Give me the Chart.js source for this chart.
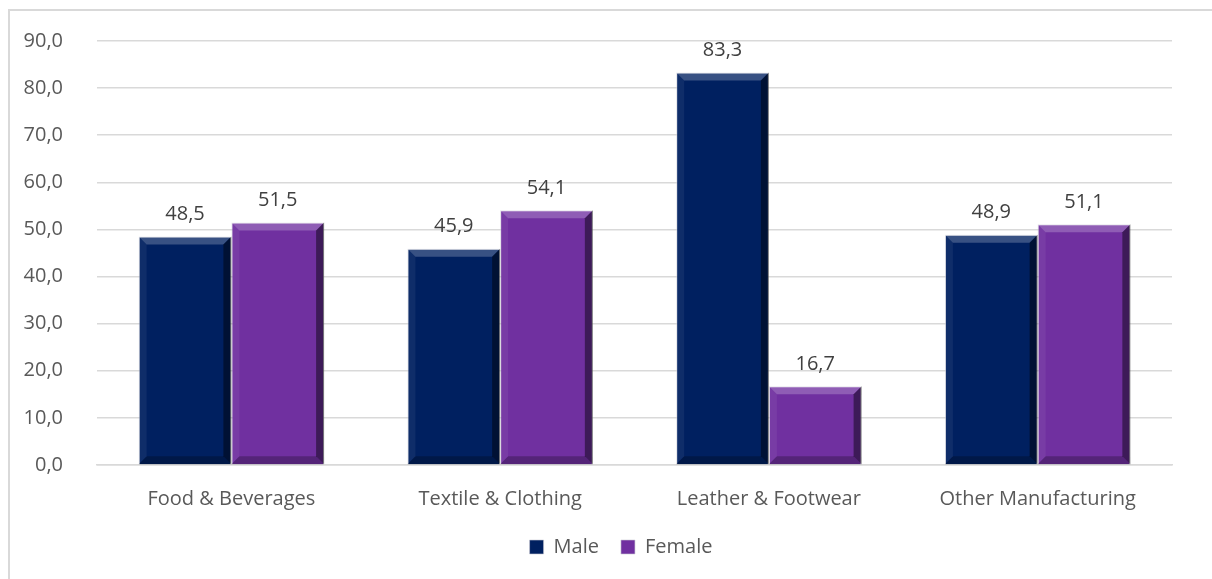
<!DOCTYPE html>
<html>
<head>
<meta charset="utf-8">
<script src="https://cdn.jsdelivr.net/npm/chart.js@4.4.1/dist/chart.umd.min.js"></script>
<style>
  html, body { margin: 0; padding: 0; background: #fff; }
  #wrap { position: relative; width: 1212px; height: 579px; overflow: hidden; }
  #frame { position: absolute; left: 8px; top: 9px; width: 1300px; height: 700px;
           border-top: 2px solid #d9d9d9; border-left: 2px solid #d9d9d9; }
  #myChart { position: absolute; left: 0; top: 0; }
</style>
</head>
<body>
<div id="wrap">
  <div id="frame"></div>
  <canvas id="myChart" width="1212" height="579"></canvas>
</div>
<script>
// Data
const categories = ['Food & Beverages', 'Textile & Clothing', 'Leather & Footwear', 'Other Manufacturing'];
const maleValues = [48.5, 45.9, 83.3, 48.9];
const femaleValues = [51.5, 54.1, 16.7, 51.1];
const yTicks = [0, 10, 20, 30, 40, 50, 60, 70, 80, 90];

const fontFamily = '"Open Sans", "Noto Sans", sans-serif';
const fontSize = 20;
const fmt = v => v.toFixed(1).replace('.', ',');

// Skuggning på staplarna (bevel-liknande)
const bevelPlugin = {
  id: 'bevel',
  afterDatasetsDraw(chart) {
    const ctx = chart.ctx;
    chart.data.datasets.forEach((ds, i) => {
      chart.getDatasetMeta(i).data.forEach(bar => {
        const l = bar.x - bar.width / 2, r = bar.x + bar.width / 2;
        const t = bar.y, b = bar.base;
        const e = Math.min(8, (b - t) / 3);
        ctx.save();
        // top (light)
        ctx.fillStyle = 'rgba(255,255,255,0.22)';
        ctx.beginPath();
        ctx.moveTo(l, t); ctx.lineTo(r, t); ctx.lineTo(r - e, t + e); ctx.lineTo(l + e, t + e);
        ctx.fill();
        // right (dark)
        ctx.fillStyle = 'rgba(0,0,0,0.45)';
        ctx.beginPath();
        ctx.moveTo(r, t); ctx.lineTo(r, b); ctx.lineTo(r - e, b - e); ctx.lineTo(r - e, t + e);
        ctx.fill();
        // bottom (dark)
        ctx.fillStyle = 'rgba(0,0,0,0.25)';
        ctx.beginPath();
        ctx.moveTo(l, b); ctx.lineTo(r, b); ctx.lineTo(r - e, b - e); ctx.lineTo(l + e, b - e);
        ctx.fill();
        // left (slightly light)
        ctx.fillStyle = 'rgba(255,255,255,0.06)';
        ctx.beginPath();
        ctx.moveTo(l, t); ctx.lineTo(l, b); ctx.lineTo(l + e, b - e); ctx.lineTo(l + e, t + e);
        ctx.fill();
        ctx.restore();
      });
    });
  }
};

// Värden ovanför staplarna
const valueLabels = {
  id: 'valueLabels',
  afterDatasetsDraw(chart) {
    const ctx = chart.ctx;
    ctx.save();
    ctx.font = fontSize + 'px ' + fontFamily;
    ctx.fillStyle = '#404040';
    ctx.textAlign = 'center';
    ctx.textBaseline = 'middle';
    chart.data.datasets.forEach((ds, i) => {
      chart.getDatasetMeta(i).data.forEach((bar, j) => {
        ctx.fillText(fmt(ds.data[j]), bar.x, bar.y - 22);
      });
    });
    ctx.restore();
  }
};

const data = {
  labels: categories,
  datasets: [
    {
      label: 'Male',
      data: maleValues,
      backgroundColor: '#002060',
      borderColor: 'rgba(200,200,210,0.6)',
      borderWidth: 1,
      categoryPercentage: 0.69,
      barPercentage: 1.0
    },
    {
      label: 'Female',
      data: femaleValues,
      backgroundColor: '#7030A0',
      borderColor: 'rgba(200,200,210,0.6)',
      borderWidth: 1,
      categoryPercentage: 0.69,
      barPercentage: 1.0
    }
  ]
};

const config = {
  type: 'bar',
  data: data,
  plugins: [bevelPlugin, valueLabels],
  options: {
    responsive: false,
    animation: false,
    layout: { padding: { top: 41, right: -8, bottom: 12, left: 22 } },
    plugins: {
      legend: {
        position: 'bottom',
        labels: {
          font: { family: fontFamily, size: fontSize },
          color: '#595959',
          usePointStyle: true,
          pointStyle: 'rect',
          boxWidth: 14,
          boxHeight: 14,
          padding: 22
        }
      },
      tooltip: { enabled: false }
    },
    scales: {
      y: {
        min: 0,
        max: 90,
        afterBuildTicks: s => { s.ticks = yTicks.map(v => ({ value: v })); },
        afterFit: s => { s.width = 75; s.paddingTop = 0; s.paddingBottom = 0; },
        border: { display: false },
        grid: { color: '#d9d9d9', lineWidth: 1.5, drawTicks: false },
        ticks: {
          padding: 34,
          color: '#595959',
          font: { family: fontFamily, size: fontSize },
          callback: v => fmt(v)
        }
      },
      // tom axel till höger för marginal
      yRight: {
        position: 'right',
        min: 0,
        max: 90,
        afterFit: s => { s.width = 48; s.paddingTop = 0; s.paddingBottom = 0; },
        border: { display: false },
        grid: { display: false },
        ticks: { display: false }
      },
      x: {
        afterFit: s => { s.height = 50; },
        border: { color: '#d9d9d9', width: 1.5 },
        grid: { display: false },
        ticks: {
          padding: 14,
          color: '#595959',
          font: { family: fontFamily, size: fontSize }
        }
      }
    }
  }
};

// Skapa diagrammet
const myChart = new Chart(document.getElementById('myChart'), config);
</script>
</body>
</html>
